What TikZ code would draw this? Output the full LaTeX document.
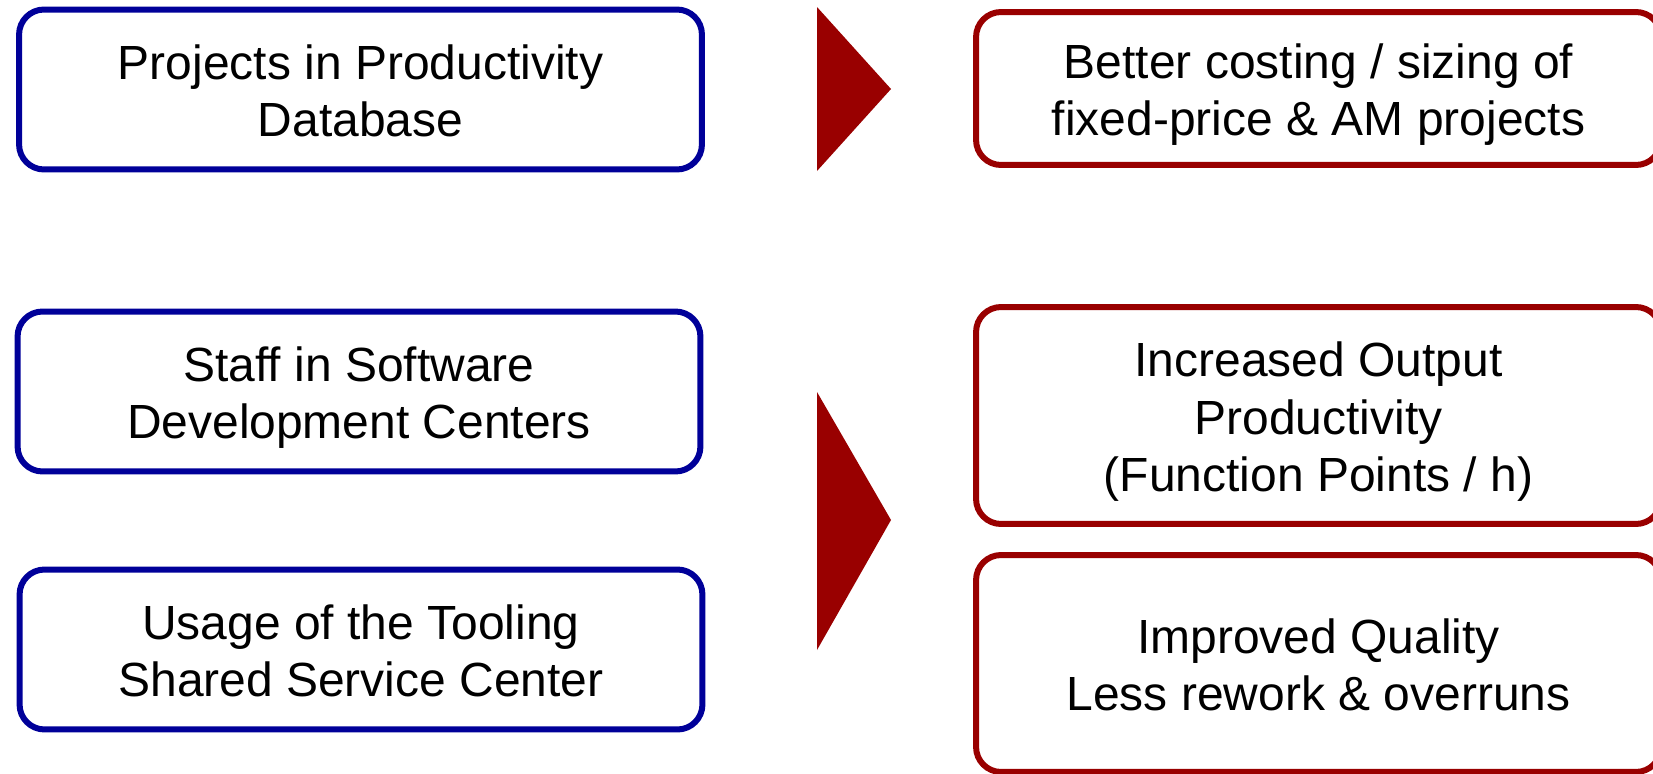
\documentclass[tikz,border=0pt]{standalone}
\usepackage{fontspec}
\setmainfont{Liberation Sans}
\definecolor{boxblue}{RGB}{0,0,153}
\definecolor{boxred}{RGB}{153,0,0}
\newcommand{\boxtop}{\rule{0pt}{0.96cm}}
\newcommand{\boxbot}{\rule[-0.22cm]{0pt}{0.22cm}}
\begin{document}
\begin{tikzpicture}[x=0.02cm, y=-0.02cm,
      box/.style={draw, line width=0.12cm, rounded corners=0.5cm, align=center,
        inner sep=0pt, font=\fontsize{27.3}{33}\selectfont},
      driver/.style={box, draw=boxblue, minimum width=13.66cm, minimum height=3.2cm},
      effect/.style={box, draw=boxred, minimum width=13.7cm},
      chevron/.style={fill=boxred},
    ]
    \clip (0,0) rectangle (1653,774);
    \node[driver] (pdb) at (360.5, 89.5) {\boxtop Projects in Productivity \\ Database\boxbot};
    \node[driver] (sdc) at (359, 391.5) {\boxtop Staff in Software \\ Development Centers\boxbot};
    \node[driver] (ssc) at (361, 649.5) {\boxtop Usage of the Tooling \\ Shared Service Center\boxbot};
    \node[effect, minimum height=3.06cm] (cost) at (1318.5, 88.5) {\boxtop Better costing / sizing of \\ fixed-price \& AM projects\boxbot};
    \node[effect, minimum height=4.34cm] (prod) at (1318.5, 415.5) {\boxtop Increased Output \\ Productivity \\ (Function Points / h)\boxbot};
    \node[effect, minimum height=4.34cm] (qual) at (1318.5, 663.5) {\boxtop Improved Quality \\ Less rework \& overruns\boxbot};
    \fill[chevron] (817,7) -- (891,89) -- (817,171) -- cycle;
    \fill[chevron] (817,392) -- (891,520) -- (817,650) -- cycle;
  \end{tikzpicture}
\end{document}
